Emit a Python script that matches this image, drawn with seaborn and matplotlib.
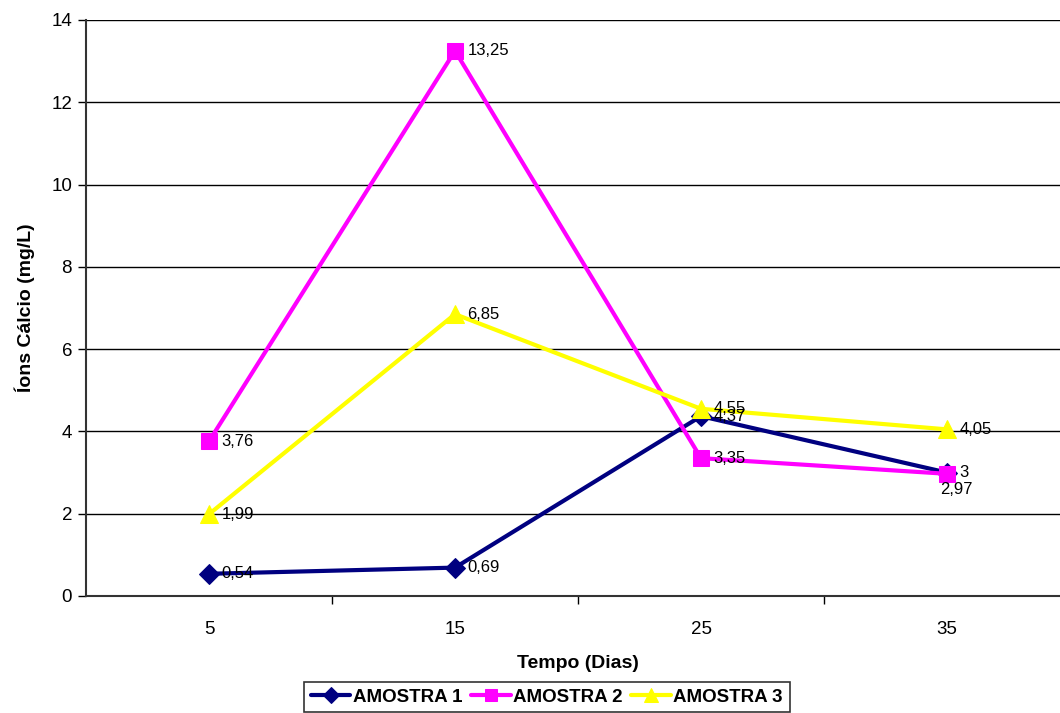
import matplotlib
matplotlib.use("Agg")
import matplotlib.pyplot as plt
import pandas as pd
import seaborn as sns

dias = ["5", "15", "25", "35"]
amostra_1 = [0.54, 0.69, 4.37, 3.0]
amostra_2 = [3.76, 13.25, 3.35, 2.97]
amostra_3 = [1.99, 6.85, 4.55, 4.05]
series_names = ["AMOSTRA 1", "AMOSTRA 2", "AMOSTRA 3"]

rows = []
for name, vals in zip(series_names, [amostra_1, amostra_2, amostra_3]):
    for i, v in enumerate(vals):
        rows.append({"pos": i, "dia": dias[i], "valor": v, "serie": name})
df = pd.DataFrame(rows)

sns.set_style("white")
plt.rcParams["font.family"] = ["Liberation Sans", "DejaVu Sans"]
plt.rcParams["text.color"] = "black"
plt.rcParams["axes.labelcolor"] = "black"
plt.rcParams["xtick.color"] = "black"
plt.rcParams["ytick.color"] = "black"

colors = {"AMOSTRA 1": "#000080", "AMOSTRA 2": "#FF00FF", "AMOSTRA 3": "#FFFF00"}
markers = {"AMOSTRA 1": "D", "AMOSTRA 2": "s", "AMOSTRA 3": "^"}
msizes = {"AMOSTRA 1": 10, "AMOSTRA 2": 11, "AMOSTRA 3": 13}

fig = plt.figure(figsize=(10.6, 7.13), dpi=100)
ax = fig.add_axes([86 / 1060, 1 - 596 / 713, 984 / 1060, 576 / 713])

for name in series_names:
    sub = df[df["serie"] == name]
    sns.lineplot(data=sub, x="pos", y="valor", ax=ax, color=colors[name],
                 marker=markers[name], markersize=msizes[name], linewidth=3,
                 markeredgecolor=colors[name], label=name, legend=False,
                 clip_on=False)

# data labels
for _, r in df.iterrows():
    if r["serie"] == "AMOSTRA 2" and r["pos"] == 3:
        ax.annotate(f"{r['valor']:.2f}".replace(".", ","), (r["pos"], r["valor"]),
                    xytext=(-5, -6), textcoords="offset points",
                    ha="left", va="top", fontsize=12)
    else:
        txt = f"{r['valor']:g}" if r["valor"] == int(r["valor"]) else f"{r['valor']:.2f}"
        ax.annotate(txt.replace(".", ","), (r["pos"], r["valor"]),
                    xytext=(9, 0), textcoords="offset points",
                    ha="left", va="center", fontsize=12)

ax.set_xlim(-0.5, 3.5)
ax.set_ylim(0, 14)
ax.set_yticks(range(0, 15, 2))
ax.set_xticks(range(len(dias)))
ax.set_xticklabels(dias)
ax.set_xticks([0.5, 1.5, 2.5], minor=True)
ax.tick_params(axis="x", which="major", bottom=False, length=0, labelsize=13.5, pad=18)
ax.tick_params(axis="x", which="minor", bottom=True, length=6, width=1, direction="out")
ax.tick_params(axis="y", left=True, length=6, width=1, direction="out", labelsize=13.5, pad=4)
ax.grid(axis="y", color="black", linewidth=1)
ax.set_axisbelow(True)
for side in ["top", "right"]:
    ax.spines[side].set_visible(False)
for side in ["left", "bottom"]:
    ax.spines[side].set_color("#333333")
    ax.spines[side].set_linewidth(1.5)

ax.set_xlabel("Tempo (Dias)", fontsize=14, fontweight="bold", labelpad=12)
ax.set_ylabel("Íons Cálcio (mg/L)", fontsize=14, fontweight="bold", labelpad=12)

handles, labels = ax.get_legend_handles_labels()
leg = fig.legend(handles, labels, loc="upper center", bbox_to_anchor=(547 / 1060, 1 - 682 / 713),
                 ncol=3, frameon=True, fancybox=False, edgecolor="black",
                 prop={"weight": "bold", "size": 13.5}, handlelength=2.1,
                 columnspacing=0.45, handletextpad=0.15, borderpad=0.35,
                 borderaxespad=0, markerscale=0.8)
leg.get_frame().set_linewidth(1.2)

fig.savefig("out.png", dpi=100)
